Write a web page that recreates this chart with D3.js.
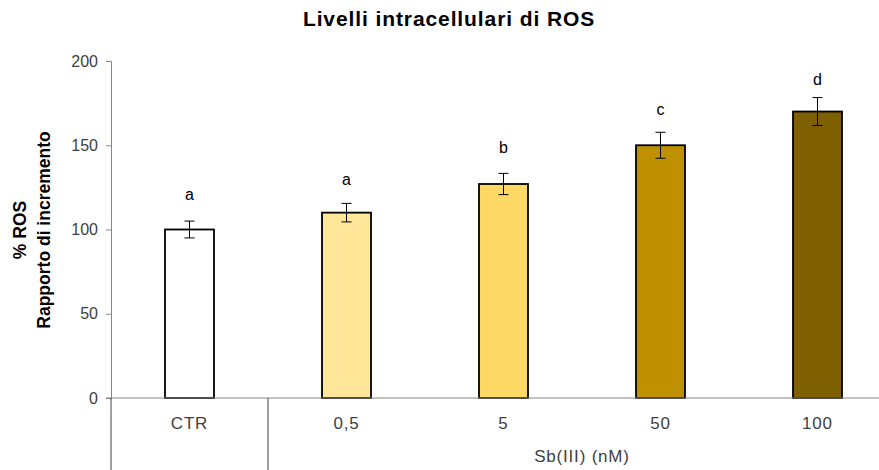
<!DOCTYPE html>
<html>
<head>
<meta charset="utf-8">
<script src="https://cdn.jsdelivr.net/npm/d3@7"></script>
<style>
  body { margin: 0; background: #fff; }
  svg { display: block; font-family: "Liberation Sans", Arial, sans-serif; }
</style>
</head>
<body>
<svg width="879" height="470"></svg>
<script>
// data
const categories = ["CTR", "0,5", "5", "50", "100"];
const values = [100, 110, 127, 150, 170];
const errors = [5, 5.5, 6.3, 7.7, 8.3];
const letters = ["a", "a", "b", "c", "d"];
const letterLevels = [117.5, 126.5, 145.5, 168, 185.5]; // where the letters sit, in y units
const colors = ["#ffffff", "#ffe699", "#ffd966", "#bf9000", "#7f6000"];
const yTicks = [0, 50, 100, 150, 200];

let svg = d3.select("svg");
let W = 879, H = 470;

let margin = {left: 111, top: 61, bottom: 398};

let x = d3.scaleBand()
  .domain(categories)
  .range([margin.left, margin.left + 157 * categories.length])
  .paddingInner(0.688)
  .paddingOuter(0.344);

let y = d3.scaleLinear()
  .domain([0, 200])
  .range([margin.bottom, margin.top]);

let cx = (d, i) => x(categories[i]) + x.bandwidth() / 2;

// title
svg.append("text")
  .attr("x", 449).attr("y", 26)
  .attr("text-anchor", "middle")
  .style("font-size", "21px").style("font-weight", "bold")
  .style("letter-spacing", "0.9px")
  .attr("fill", "#000")
  .text("Livelli intracellulari di ROS");

// y axis label (two lines)
let yl = svg.append("text")
  .attr("transform", "translate(0,230) rotate(-90)")
  .attr("text-anchor", "middle")
  .style("font-size", "17.5px").style("font-weight", "bold")
  .attr("fill", "#000");
yl.append("tspan").attr("x", 0).attr("y", 26).text("% ROS");
yl.append("tspan").attr("x", 0).attr("y", 50).text("Rapporto di incremento");

// y axis
let yAxis = svg.append("g")
  .attr("transform", "translate(" + margin.left + ",0)")
  .call(d3.axisLeft(y).tickValues(yTicks).tickSize(5).tickPadding(8));
yAxis.select(".domain").attr("stroke", "#868686");
yAxis.selectAll(".tick line").attr("stroke", "#868686");
yAxis.selectAll(".tick text")
  .style("font-size", "16px").attr("fill", "#404040")
  .style("font-family", "'Liberation Sans', Arial, sans-serif");

// bars
svg.selectAll("rect.bar")
  .data(values)
  .enter()
  .append("rect")
  .attr("class", "bar")
  .attr("x", (d, i) => x(categories[i]))
  .attr("y", d => y(d))
  .attr("width", x.bandwidth())
  .attr("height", d => y(0) - y(d))
  .attr("fill", (d, i) => colors[i])
  .attr("stroke", "#000")
  .attr("stroke-width", 1.8);

// error bars
let eb = svg.selectAll("g.err")
  .data(values)
  .enter()
  .append("g")
  .attr("class", "err")
  .attr("stroke", "#000")
  .attr("stroke-width", 1);
eb.append("line")
  .attr("x1", cx).attr("x2", cx)
  .attr("y1", (d, i) => y(d + errors[i]))
  .attr("y2", (d, i) => y(d - errors[i]));
eb.append("line")
  .attr("x1", (d, i) => cx(d, i) - 5)
  .attr("x2", (d, i) => cx(d, i) + 5)
  .attr("y1", (d, i) => y(d + errors[i]))
  .attr("y2", (d, i) => y(d + errors[i]));
eb.append("line")
  .attr("x1", (d, i) => cx(d, i) - 5)
  .attr("x2", (d, i) => cx(d, i) + 5)
  .attr("y1", (d, i) => y(d - errors[i]))
  .attr("y2", (d, i) => y(d - errors[i]));

// significance letters
svg.selectAll("text.letter")
  .data(letters)
  .enter()
  .append("text")
  .attr("class", "letter")
  .attr("x", (d, i) => cx(d, i))
  .attr("y", (d, i) => y(letterLevels[i]))
  .attr("text-anchor", "middle")
  .style("font-size", "16px")
  .attr("fill", "#000")
  .text(d => d);

// x axis line
svg.append("line")
  .attr("x1", margin.left - 5).attr("x2", W)
  .attr("y1", y(0)).attr("y2", y(0))
  .attr("stroke", "#868686").attr("stroke-width", 1);

// group dividers below the axis
let divX = [margin.left, margin.left + x.step()];
svg.selectAll("line.div")
  .data(divX)
  .enter()
  .append("line")
  .attr("class", "div")
  .attr("x1", d => d).attr("x2", d => d)
  .attr("y1", y(0)).attr("y2", H)
  .attr("stroke", "#404040").attr("stroke-width", 1);

// category labels
svg.selectAll("text.cat")
  .data(categories)
  .enter()
  .append("text")
  .attr("class", "cat")
  .attr("x", d => x(d) + x.bandwidth() / 2)
  .attr("y", 429)
  .attr("text-anchor", "middle")
  .style("font-size", "17px")
  .style("letter-spacing", "0.8px")
  .attr("fill", "#404040")
  .text(d => d);

svg.append("text")
  .attr("x", (divX[1] + x.range()[1]) / 2)
  .attr("y", 462)
  .attr("text-anchor", "middle")
  .style("font-size", "17px")
  .style("letter-spacing", "0.8px")
  .attr("fill", "#404040")
  .text("Sb(III) (nM)");
</script>
</body>
</html>
